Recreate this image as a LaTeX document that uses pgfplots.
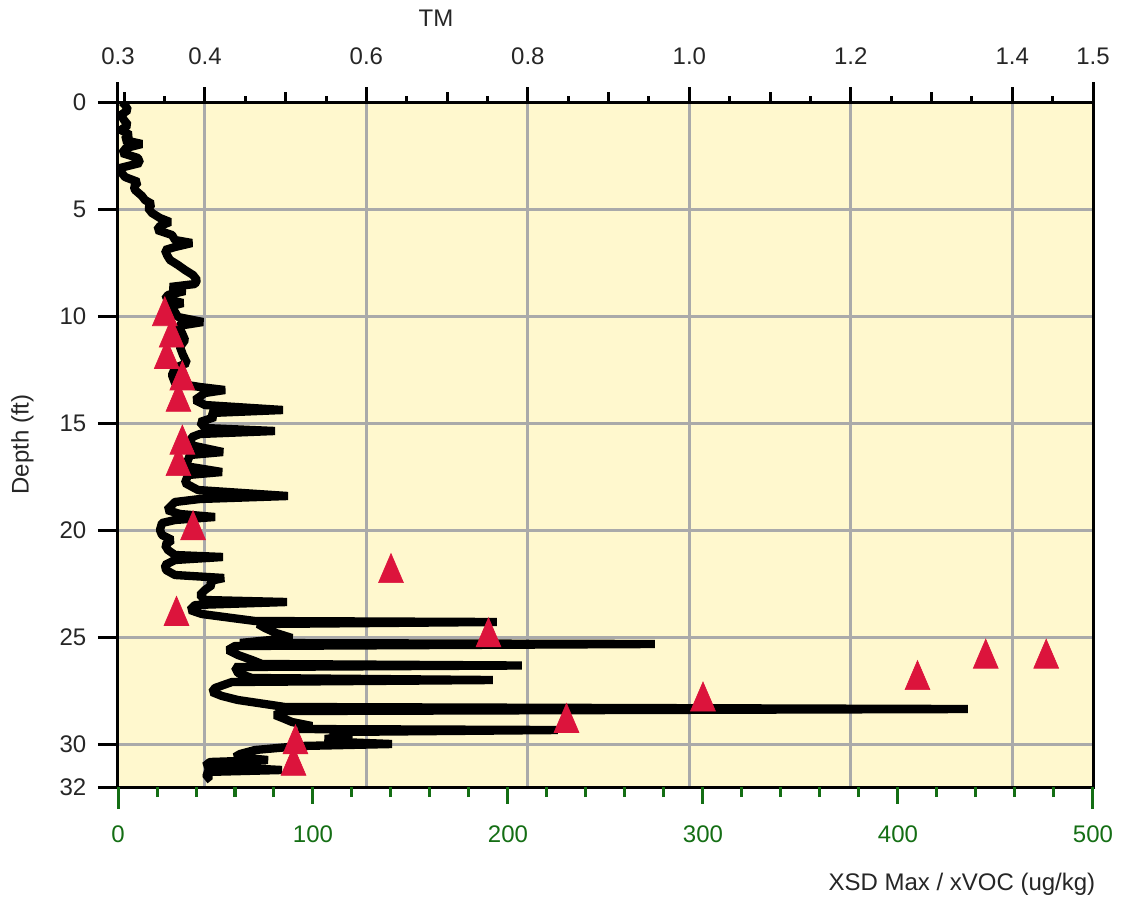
\documentclass[border=0pt]{standalone}
\usepackage{fontspec}
\setmainfont{Liberation Sans}
\usepackage{pgfplots}
\usepackage{pgfplotstable}
\pgfplotsset{compat=1.18}
\definecolor{bgyellow}{RGB}{255,248,206}
\definecolor{gridgray}{RGB}{170,170,170}
\definecolor{tred}{RGB}{220,20,60}
\definecolor{dgreen}{RGB}{20,110,20}

% TM profile: TM value, depth (ft)
\pgfplotstableread{
tm depth
0.2973 0.000
0.3010 0.140
0.3047 0.374
0.2960 0.607
0.2997 0.841
0.3047 1.074
0.2960 1.308
0.3072 1.542
0.2997 1.775
0.3220 1.962
0.3022 2.149
0.2973 2.383
0.3171 2.616
0.3195 2.850
0.2948 3.083
0.2960 3.270
0.3010 3.504
0.3171 3.737
0.3121 3.971
0.3134 4.111
0.3220 4.391
0.3257 4.578
0.3344 4.765
0.3295 4.952
0.3344 5.185
0.3443 5.419
0.3567 5.606
0.3443 5.793
0.3406 5.980
0.3592 6.213
0.3629 6.447
0.3839 6.587
0.3629 6.774
0.3505 6.914
0.3530 7.148
0.3567 7.381
0.3666 7.615
0.3753 7.848
0.3852 8.082
0.3901 8.315
0.3877 8.502
0.3567 8.642
0.3753 8.829
0.3542 9.016
0.3505 9.203
0.3728 9.390
0.3542 9.577
0.3629 9.810
0.3666 10.044
0.3976 10.277
0.3666 10.464
0.3716 10.791
0.3753 11.118
0.3691 11.445
0.3728 11.819
0.3777 12.193
0.3629 12.426
0.3592 12.753
0.3629 13.127
0.3938 13.314
0.4248 13.454
0.4000 13.594
0.3877 13.921
0.4000 14.155
0.4966 14.388
0.4062 14.529
0.4124 14.715
0.3938 14.949
0.4000 15.229
0.4867 15.369
0.3938 15.509
0.3839 15.650
0.3815 16.023
0.4223 16.351
0.3815 16.491
0.3790 16.724
0.3753 17.005
0.4211 17.285
0.3790 17.425
0.3753 17.799
0.3914 18.126
0.5028 18.406
0.3938 18.546
0.3629 18.686
0.3567 18.920
0.3530 19.060
0.3691 19.247
0.4124 19.387
0.3629 19.527
0.3468 19.667
0.3443 19.994
0.3468 20.228
0.3592 20.461
0.3505 20.695
0.3542 20.928
0.3629 21.162
0.4223 21.255
0.3629 21.396
0.3505 21.629
0.3517 21.863
0.3629 22.096
0.4236 22.236
0.4062 22.377
0.4087 22.564
0.4000 22.797
0.3938 23.031
0.4000 23.264
0.5016 23.358
0.3877 23.498
0.3815 23.732
0.3963 23.919
0.4335 24.105
0.4620 24.245
0.7617 24.292
0.4657 24.386
0.4743 24.573
0.4880 24.806
0.5078 25.040
0.4681 25.180
0.4434 25.273
0.9573 25.320
0.4372 25.413
0.4285 25.600
0.4409 25.834
0.4582 26.067
0.4706 26.254
0.7926 26.324
0.4372 26.394
0.4409 26.675
0.4582 26.908
0.7567 27.002
0.4335 27.095
0.4124 27.375
0.4087 27.562
0.4211 27.749
0.4409 27.936
0.4743 28.123
0.4991 28.263
1.3449 28.357
0.4991 28.450
0.4867 28.637
0.4991 28.824
0.5078 28.964
0.5326 29.151
0.5152 29.291
0.8372 29.338
0.5548 29.431
0.5821 29.618
0.5486 29.758
0.5672 29.898
0.6316 29.992
0.5177 30.085
0.4620 30.272
0.4434 30.459
0.4372 30.599
0.4781 30.739
0.4062 30.832
0.4000 31.019
0.4954 31.206
0.4000 31.299
0.4062 31.486
0.4000 31.673
}\tmdata

% XSD Max / xVOC (ug/kg), depth (ft)
\pgfplotstableread{
xsd depth
24 10
27.5 11
25 12
33 13
31 14
33 16
31 17
38.5 20
140 22
30 24
190 25
445 26
476 26
410 27
300 28
230 29
91 30
90 31
}\xsddata

\begin{document}
\begin{tikzpicture}
\pgfplotsset{
  common/.style={scale only axis, width=292.5pt, height=205.5pt,
    at={(0,0)}, anchor=south west, ymin=0, ymax=32, y dir=reverse,
    font=\fontsize{7.2}{8.6}\selectfont, tick align=outside},
}
% Axis A: TM scale, background, grid, profile
\begin{axis}[common,
  xmin=0.2923, xmax=1.5,
  axis background/.style={fill=bgyellow},
  axis line style={line width=0.9pt, black},
  xtick pos=upper, xticklabel pos=upper, ytick pos=left,
  xtick={0.4,0.6,0.8,1.0,1.2,1.4},
  xticklabels={0.4,0.6,0.8,1.0,1.2,1.4},
  minor xtick={0.3,0.5,0.7,0.9,1.1,1.3},
  major tick length=4.5pt, minor tick length=3pt,
  ytick={5,10,15,20,25,30}, yticklabels={},
  xmajorgrids, ymajorgrids,
  major grid style={gridgray, line width=0.9pt},
  tick style={line width=0.9pt, black},
  xticklabel style={yshift=3.2pt, text=black!85},
  every axis title shift=0pt,
  title={TM},
  title style={at={(axis description cs:0.3077,1.1226)}, anchor=west, yshift=0pt, inner sep=0pt, text=black!85},
]
\addplot[black, line width=2.5pt, line join=bevel] table[x=tm, y=depth] {\tmdata};
\end{axis}
% Axis B: end ticks on top, short minor ticks, depth ticks
\begin{axis}[common,
  xmin=0.2923, xmax=1.5,
  axis line style={draw=none},
  xtick pos=upper, xticklabel pos=upper, ytick pos=left,
  xtick={0.2923,1.5}, xticklabels={0.3,1.5},
  minor xtick={0.35,0.45,0.55,0.65,0.75,0.85,0.95,1.05,1.15,1.25,1.35,1.45},
  major tick length=6pt, minor tick length=1.8pt,
  ytick={0,5,10,15,20,25,30,32},
  yticklabels={0,5,10,15,20,25,30,32},
  tick style={line width=0.9pt, black},
  xticklabel style={yshift=1.7pt, text=black!85},
  yticklabel style={text=black!85},
  ylabel={Depth (ft)},
  ylabel style={at={(axis description cs:-0.098,0.5)}, anchor=center, text=black!85},
]
\end{axis}
% Axis C: bottom scale, major and minor green ticks
\begin{axis}[common,
  xmin=0, xmax=500,
  axis line style={draw=none},
  xtick pos=lower, xticklabel pos=lower,
  xtick={100,200,300,400}, xticklabels={100,200,300,400},
  minor xtick={20,40,60,80,120,140,160,180,220,240,260,280,320,340,360,380,420,440,460,480},
  major tick length=5pt, minor tick length=3pt,
  ytick=\empty,
  tick style={line width=0.9pt, dgreen},
  xticklabel style={yshift=-3pt, text=dgreen},
]
\end{axis}
% Axis D: bottom end ticks, label, triangles
\begin{axis}[common,
  xmin=0, xmax=500,
  axis line style={draw=none},
  xtick pos=lower, xticklabel pos=lower,
  xtick={0,500}, xticklabels={0,500},
  major tick length=6.6pt,
  ytick=\empty,
  tick style={line width=0.9pt, dgreen},
  xticklabel style={yshift=-1.4pt, text=dgreen},
  xlabel={XSD Max / xVOC (ug/kg)},
  xlabel style={at={(axis description cs:1.003,-0.1416)}, anchor=east, inner sep=0pt, text=black!85},
  clip=false,
]
\addplot[only marks, mark=triangle*, mark size=4.3pt,
  mark options={fill=tred, draw=tred, line width=0.2pt, yscale=1.35}]
  table[x=xsd, y=depth] {\xsddata};
\end{axis}
\pgfresetboundingbox
\path (-35.4pt,-34.5pt) rectangle (302.1pt,236.1pt);
\end{tikzpicture}
\end{document}
